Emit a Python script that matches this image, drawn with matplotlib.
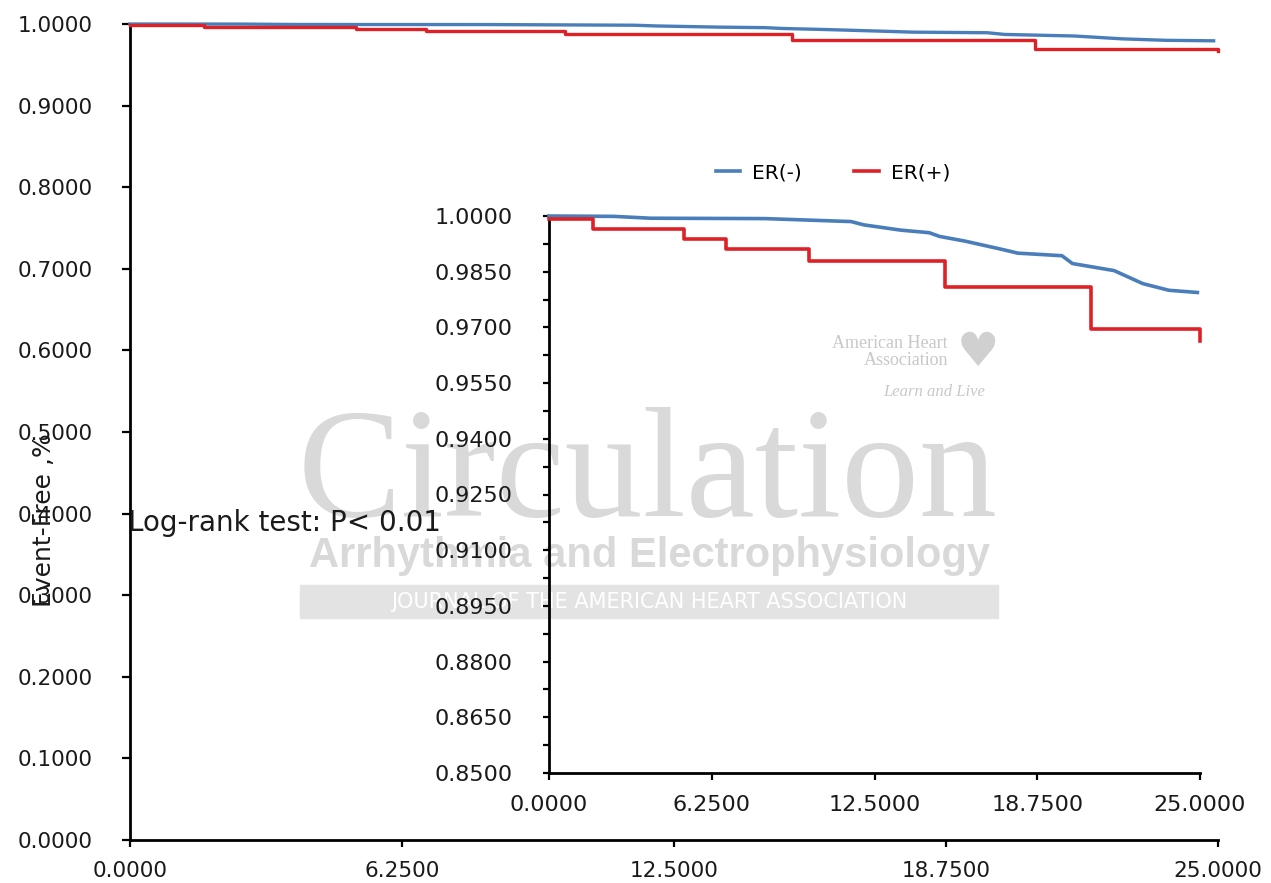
import numpy as np
import matplotlib
matplotlib.use("Agg")
import matplotlib.pyplot as plt
from matplotlib.patches import Rectangle

# ── data ────────────────────────────────────────────────────
er_neg_x = [0.0, 2.5, 3.9, 8.3, 11.6, 12.1, 13.5, 14.6, 15.0, 16.0, 17.4,
            18.0, 19.7, 20.1, 21.7, 22.8, 23.8, 24.9]
er_neg_y = [1.0, 0.9999, 0.9994, 0.9993, 0.9985, 0.9976, 0.9962, 0.9955,
            0.9945, 0.9932, 0.9910, 0.9900, 0.9893, 0.9872, 0.9853, 0.9818,
            0.9800, 0.9794]

er_pos_x = [0.0, 1.7, 5.2, 6.8, 10.0, 15.2, 20.8, 25.0]
er_pos_y = [0.9993, 0.99655, 0.9938, 0.9912, 0.9880, 0.9808, 0.9695, 0.9664]

main_yticks = [0.0, 0.1, 0.2, 0.3, 0.4, 0.5, 0.6, 0.7, 0.8, 0.9, 1.0]
inset_yticks = [0.85, 0.865, 0.88, 0.895, 0.91, 0.925, 0.94, 0.955, 0.97, 0.985, 1.0]
xticks = [0.0, 6.25, 12.5, 18.75, 25.0]

C = {"neg": "#4A7EBB", "pos": "#DD2127", "wm": "#D9D9D9"}
W, H = 1271, 883

fig = plt.figure(figsize=(W / 100, H / 100), dpi=100)
fig.patch.set_facecolor("white")


def fx(px):
    return px / W


def fy(py):
    return 1 - py / H


def style_axes(ax, ylen, lbl_size, ypad, xpad):
    for s in ("top", "right"):
        ax.spines[s].set_visible(False)
    for s in ("left", "bottom"):
        ax.spines[s].set_linewidth(2)
        ax.spines[s].set_color("black")
    ax.patch.set_visible(False)
    ax.tick_params(axis="y", direction="out", length=ylen, width=1.6,
                   labelsize=lbl_size, pad=ypad, labelcolor="#1a1a1a")
    ax.tick_params(axis="x", direction="out", length=5, width=1.6,
                   labelsize=lbl_size, pad=xpad, labelcolor="#1a1a1a")
    ax.set_xlim(0, 25)
    ax.set_xticks(xticks)
    ax.set_xticklabels([f"{v:.4f}" for v in xticks])


# ── main axes ───────────────────────────────────────────────
ax = fig.add_axes([fx(130), fy(840), fx(1218 - 130), (840 - 24) / H])
ax.plot(er_neg_x, er_neg_y, color=C["neg"], lw=2.4, clip_on=False, zorder=3)
ax.step(er_pos_x, er_pos_y, where="post", color=C["pos"], lw=2.4,
        clip_on=False, zorder=4)
ax.set_ylim(0, 1)
ax.set_yticks(main_yticks)
ax.set_yticklabels([f"{v:.4f}" for v in main_yticks])
style_axes(ax, 6, 15.5, 21, 10)

# ── inset axes ──────────────────────────────────────────────
ax2 = fig.add_axes([fx(549), fy(773), fx(1200 - 549), (773 - 216) / H])
ax2.plot(er_neg_x, er_neg_y, color=C["neg"], lw=2.6, clip_on=False,
         zorder=3, label="ER(-)")
ax2.step(er_pos_x, er_pos_y, where="post", color=C["pos"], lw=2.6,
         clip_on=False, zorder=4, label="ER(+)")
ax2.set_ylim(0.85, 1.0)
ax2.set_yticks(inset_yticks)
ax2.set_yticklabels([f"{v:.4f}" for v in inset_yticks])
ax2.set_yticks(np.arange(0.8575, 1.0, 0.015), minor=True)
ax2.tick_params(axis="y", which="minor", direction="out", length=4.5, width=1.6)
style_axes(ax2, 4.5, 16, 22, 11)

leg = fig.legend(*ax2.get_legend_handles_labels(), loc="center",
                 bbox_to_anchor=(fx(833), fy(173)), ncol=2, frameon=False,
                 fontsize=14.5, handlelength=1.2, columnspacing=2.6,
                 handletextpad=0.6)

# ── labels ──────────────────────────────────────────────────
fig.text(fx(44), fy(520), "Event-Free ,%", rotation=90, ha="center",
         va="center", fontsize=18, color="#1a1a1a", zorder=5)
fig.text(fx(128), fy(523), "Log-rank test: P< 0.01", ha="left", va="center",
         fontsize=20, color="#1a1a1a", zorder=5)

# ── journal watermark ──────────────────────────────────────
fig.text(fx(648), fy(478), "Circulation", ha="center", va="center",
         family="Liberation Serif", fontsize=112, color=C["wm"], zorder=-2)
fig.text(fx(650), fy(556), "Arrhythmia and Electrophysiology", ha="center",
         va="center", family=["Liberation Sans Narrow", "Liberation Sans"],
         fontweight="bold", fontsize=30, color=C["wm"], zorder=-2)
fig.patches.append(Rectangle((fx(300), fy(618)), fx(698), 33 / H,
                             transform=fig.transFigure, color="#E3E3E3",
                             zorder=-3))
fig.text(fx(649), fy(602), "JOURNAL OF THE AMERICAN HEART ASSOCIATION",
         ha="center", va="center", fontsize=15, color="white", zorder=-2)
fig.text(fx(948), fy(352), "American Heart\nAssociation", ha="right",
         va="center", family="Liberation Serif", fontsize=13,
         color="#C8C8C8", linespacing=0.95, zorder=-2)
fig.text(fx(978), fy(354), "\u2665", ha="center", va="center",
         fontsize=34, color="#D0D0D0", zorder=-2)
fig.text(fx(985), fy(392), "Learn and Live", ha="right", va="center",
         family="Liberation Serif", style="italic", fontsize=12,
         color="#C8C8C8", zorder=-2)

fig.savefig("out.png", dpi=100, facecolor="white")
